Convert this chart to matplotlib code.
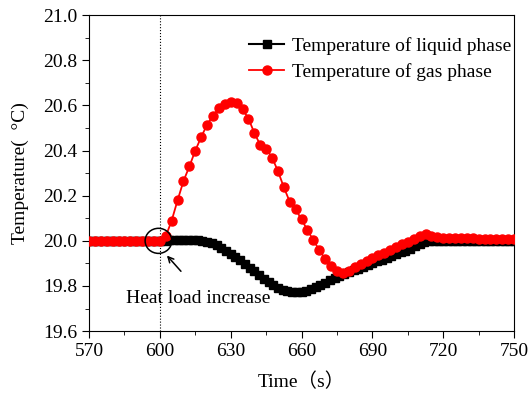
import numpy as np
import matplotlib.pyplot as plt
from matplotlib.patches import Ellipse

plt.rcParams.update({"font.family": ["Liberation Serif", "Noto Sans CJK SC"],
                     "mathtext.fontset": "stix"})

# ---- données ----
t_gas = np.arange(570, 750.1, 2.5)
T_gas = [20.0, 20.0, 20.0, 20.0, 20.0, 20.0, 20.0, 20.0, 20.0, 20.0, 20.0, 20.0, 20.0,
         20.02, 20.09, 20.18, 20.265, 20.33, 20.40, 20.46, 20.515, 20.555, 20.587,
         20.608, 20.615, 20.61, 20.583, 20.542, 20.478, 20.425, 20.409, 20.369, 20.309,
         20.237, 20.173, 20.139, 20.095, 20.047, 20.003, 19.959, 19.92, 19.888, 19.867,
         19.856, 19.868, 19.882, 19.896, 19.91, 19.923, 19.936, 19.948, 19.96, 19.972,
         19.984, 19.996, 20.008, 20.022, 20.031, 20.02, 20.015, 20.013,
         20.012, 20.012, 20.011, 20.011, 20.011, 20.01, 20.01, 20.01, 20.01, 20.01,
         20.01, 20.01]

t_liq = np.arange(570, 750.1, 2)
T_liq = [20.0, 20.0, 20.0, 20.0, 20.0, 20.0, 20.0, 20.0, 20.0, 20.0, 20.0, 20.0, 20.0,
         20.0, 20.0, 20.0,
         20.0, 20.002, 20.003, 20.003, 20.003, 20.003, 20.003, 20.002, 19.999, 19.995,
         19.989, 19.981, 19.97, 19.957, 19.943, 19.929, 19.913, 19.897, 19.881, 19.865,
         19.849, 19.833, 19.818, 19.804, 19.792, 19.784, 19.778, 19.775, 19.774, 19.775,
         19.779, 19.786, 19.795, 19.805, 19.815, 19.826, 19.836, 19.845, 19.853, 19.861,
         19.869, 19.877, 19.885, 19.893, 19.901, 19.909, 19.917, 19.925, 19.933, 19.941,
         19.949, 19.957, 19.966, 19.975, 19.985, 19.994, 19.998, 19.999,
         20.0, 20.0, 20.0, 20.0, 20.0, 20.0, 20.0, 20.0, 20.0, 20.0, 20.0, 20.0, 20.0,
         20.0, 20.0, 20.0, 20.0]

x_ticks = [570, 600, 630, 660, 690, 720, 750]
y_ticks = [19.6, 19.8, 20.0, 20.2, 20.4, 20.6, 20.8, 21.0]

fig = plt.figure(figsize=(5.3, 3.98), dpi=100)
ax = fig.add_axes([0.168, 0.168, 0.802, 0.794])

ax.axvline(600, color="black", ls=":", lw=0.8, zorder=1)
ax.plot(t_liq, T_liq, color="black", marker="s", ms=5.5, lw=1.5,
        label="Temperature of liquid phase", zorder=2)
ax.plot(t_gas, T_gas, color="red", marker="o", ms=6.5, lw=1.3,
        label="Temperature of gas phase", zorder=3)

# annotation du saut de charge
ax.add_patch(Ellipse((599.4, 20.0), 11.3, 0.111, fill=False, ec="black", lw=1.1, zorder=4))
ax.annotate("", xy=(602.2, 19.944), xytext=(609.7, 19.856),
            arrowprops=dict(arrowstyle="->", color="black", lw=1.1))
ax.text(616.4, 19.746, "Heat load increase", ha="center", va="center", fontsize=14)

ax.set_xlim(570, 750)
ax.set_ylim(19.6, 21.0)
ax.set_xticks(x_ticks)
ax.set_yticks(y_ticks)
ax.set_yticklabels([f"{v:.1f}" for v in y_ticks])
ax.set_xticks(np.arange(585, 750, 30), minor=True)
ax.set_yticks(np.arange(19.7, 21.0, 0.2), minor=True)
ax.tick_params(which="both", direction="out", top=False, right=False, labelsize=14)
ax.tick_params(which="major", length=5)
ax.tick_params(which="minor", length=3)

ax.set_xlabel("Time（s）", fontsize=14, labelpad=9)
ax.set_ylabel("Temperature(  °C)", fontsize=14, labelpad=10)

ax.legend(loc="upper right", frameon=False, fontsize=14, handlelength=1.8,
          handletextpad=0.4, borderaxespad=0.3, labelspacing=0.45,
          bbox_to_anchor=(1.025, 0.975))

fig.savefig("out.png", dpi=100)
